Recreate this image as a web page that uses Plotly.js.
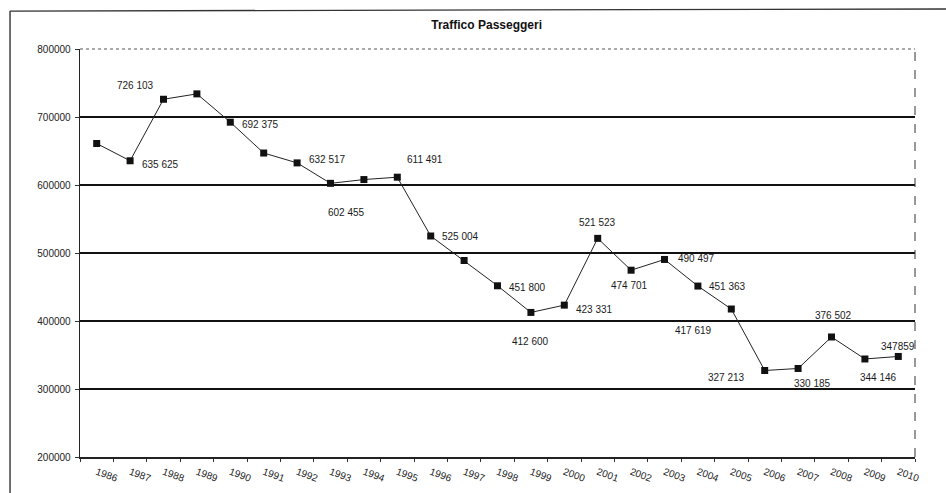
<!DOCTYPE html>
<html>
<head>
<meta charset="utf-8">
<script src="https://cdn.plot.ly/plotly-3.0.1.min.js"></script>
<style>
  html, body { margin: 0; padding: 0; background: #fff; }
  #chart { width: 946px; height: 493px; }
</style>
</head>
<body>
<div id="chart"></div>
<script>
// ---- data ----
const years = ['1986','1987','1988','1989','1990','1991','1992','1993','1994','1995','1996','1997',
               '1998','1999','2000','2001','2002','2003','2004','2005','2006','2007','2008','2009','2010'];
const passengers = [661000, 635625, 726103, 734000, 692375, 647000, 632517, 602455, 608000, 611491, 525004, 489000,
                    451800, 412600, 423331, 521523, 474701, 490497, 451363, 417619, 327213, 330185, 376502, 344146, 347859];
const pointLabels = ['', '635 625', '726 103', '', '692 375', '', '632 517', '602 455', '', '611 491', '525 004', '',
                     '451 800', '412 600', '423 331', '521 523', '474 701', '490 497', '451 363', '417 619', '327 213', '330 185', '376 502', '344 146', '347859'];
const yTicks = [200000, 300000, 400000, 500000, 600000, 700000, 800000];
const chartTitle = 'Traffico Passeggeri';

// ---- label placement (pixel offsets from each point) ----
const labelShift = [
  null, [30, -4], [-28, 14], null, [30, -2], null, [30, 3], [16, -29], null, [28, 18],
  [30, 0], null, [30, -2], [0, -29], [30, -4], [0, 16], [-2, -15], [32, 1], [30, 0],
  [-38, -21], [-38, -7], [14, -15], [2, 21], [14, -19], [0, 10]
];

const annotations = [];
pointLabels.forEach((t, i) => {
  if (!t) return;
  const s = labelShift[i] || [0, 0];
  annotations.push({
    x: i, y: passengers[i], xref: 'x', yref: 'y',
    text: t, showarrow: false, xshift: s[0], yshift: s[1],
    xanchor: 'center', yanchor: 'middle',
    font: { family: 'Liberation Sans, Arial, sans-serif', size: 10, color: '#1a1a1a' }
  });
});

const trace = {
  type: 'scatter', mode: 'lines+markers',
  x: years, y: passengers,
  line: { color: '#222', width: 1 },
  marker: { symbol: 'square', size: 7, color: '#111' },
  hoverinfo: 'x+y', cliponaxis: false
};

const layout = {
  width: 946, height: 493,
  margin: { l: 80, r: 31, t: 49, b: 36 },
  paper_bgcolor: '#fff', plot_bgcolor: '#fff',
  showlegend: false,
  title: {
    text: '<b>' + chartTitle + '</b>',
    x: 0.487, xref: 'paper', xanchor: 'center',
    y: 31, yref: 'container', yanchor: 'middle',
    font: { family: 'Liberation Sans, Arial, sans-serif', size: 12, color: '#111' }
  },
  xaxis: {
    type: 'category', range: [-0.5, 24.5],
    tickson: 'boundaries', ticks: 'outside', ticklen: 3, tickcolor: '#333',
    tickangle: 20, ticklabelstandoff: 4, showgrid: false, zeroline: false,
    showline: true, linecolor: '#222', linewidth: 1.5,
    tickfont: { family: 'Liberation Sans, Arial, sans-serif', size: 10, color: '#222' }
  },
  yaxis: {
    range: [200000, 800000], tickvals: yTicks, ticktext: yTicks.map(String),
    ticks: 'outside', ticklen: 4, tickcolor: '#333', ticklabelstandoff: 2,
    showgrid: true, gridcolor: '#111', gridwidth: 1.3,
    zeroline: false, showline: true, linecolor: '#222', linewidth: 1.3,
    tickfont: { family: 'Liberation Sans, Arial, sans-serif', size: 10, color: '#222' }
  },
  annotations: annotations,
  shapes: [
    { type: 'line', xref: 'paper', yref: 'paper', x0: 0, x1: 1, y0: 1, y1: 1,
      line: { color: '#555', width: 1, dash: 'dot' } },
    { type: 'line', xref: 'paper', yref: 'paper', x0: 1, x1: 1, y0: 0, y1: 1,
      line: { color: '#333', width: 1, dash: 'dash' } },
    { type: 'line', xref: 'paper', yref: 'paper', x0: -0.0838, x1: -0.0838, y0: -0.09, y1: 1.093,
      line: { color: '#222', width: 1.3 } },
    { type: 'line', xref: 'paper', yref: 'paper', x0: -0.0838, x1: 1.04, y0: 1.093, y1: 1.098,
      line: { color: '#333', width: 1.3 } }
  ]
};

Plotly.newPlot('chart', [trace], layout, { displayModeBar: false, staticPlot: true });
</script>
</body>
</html>
